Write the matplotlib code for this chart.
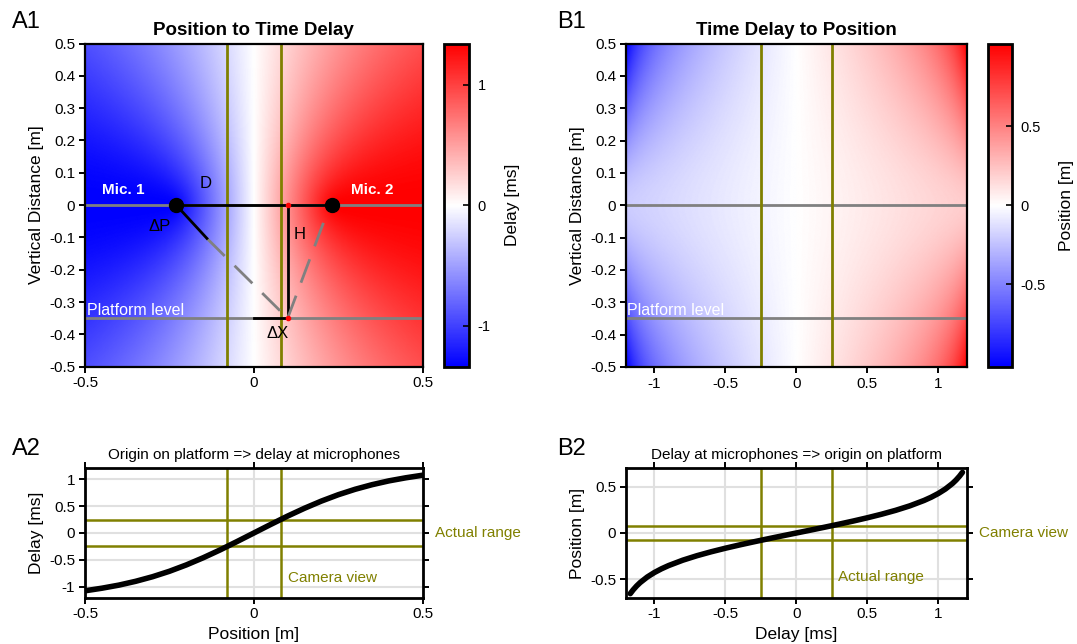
import matplotlib
matplotlib.use("Agg")
import matplotlib.pyplot as plt
import numpy as np
from matplotlib.colors import LinearSegmentedColormap
from matplotlib.ticker import FormatStrFormatter

plt.rcParams['font.family'] = ['Liberation Sans', 'DejaVu Sans']
plt.rcParams['axes.unicode_minus'] = False

# geometry of the setup
mic_x = [-0.23, 0.23]          # microphone positions [m]
sound_speed = 343.0            # [m/s]
platform_y = -0.35             # platform level [m]
camera_view = [-0.08, 0.08]    # [m]
actual_range = [-0.25, 0.25]   # [ms]
vert_ticks = [-0.5, -0.4, -0.3, -0.2, -0.1, 0, 0.1, 0.2, 0.3, 0.4, 0.5]

# example source on the platform used for the sketch in A1
src_x = 0.1
dp_end = [-0.139, -0.103]

# origin on platform -> delay at microphones
pos_a2 = [0.0, 0.05, 0.10, 0.15, 0.20, 0.25, 0.30, 0.35, 0.40, 0.45, 0.50]
delay_a2 = [0.0, 0.159, 0.314, 0.459, 0.592, 0.710, 0.811, 0.896, 0.967, 1.024, 1.072]

# delay at microphones -> origin on platform
delay_b2 = [0.0, 0.1, 0.2, 0.3, 0.4, 0.5, 0.6, 0.7, 0.8, 0.9, 0.95, 1.0, 1.05, 1.1, 1.125, 1.15, 1.17]
pos_b2 = [0.0, 0.0313, 0.0630, 0.0954, 0.1291, 0.1647, 0.2031, 0.2455, 0.2941, 0.3524,
          0.3872, 0.4276, 0.4759, 0.5361, 0.5728, 0.6158, 0.6561]

olive = '#808000'
gray = '#808080'
bwr = LinearSegmentedColormap.from_list('bwr_lin', [(0, 0, 1), (1, 1, 1), (1, 0, 0)])

# delay field over the plane
xs = np.linspace(-0.5, 0.5, 400)
ys = np.linspace(-0.5, 0.5, 400)
X, Y = np.meshgrid(xs, ys)
d1 = np.hypot(X - mic_x[0], Y)
d2 = np.hypot(X - mic_x[1], Y)
delay = (d1 - d2) / sound_speed * 1000

# position field for given delay and vertical distance
ds = np.linspace(-1.2, 1.2, 400)
D, YY = np.meshgrid(ds, ys)
a = np.abs(D) * sound_speed / 1000 / 2
b2 = mic_x[1] ** 2 - a ** 2
position = np.sign(D) * a * np.sqrt(1 + YY ** 2 / b2)

fig = plt.figure(figsize=(10.77, 6.44), dpi=100)
W, H = 1077, 644


def box(l, t, r, b):
    return [l / W, 1 - b / H, (r - l) / W, (b - t) / H]


def style_frame(ax, lw=1.6):
    for s in ax.spines.values():
        s.set_linewidth(lw)
    ax.tick_params(direction='out', length=4, width=1.4, labelsize=11, pad=3)
    ax.xaxis.set_major_formatter(FormatStrFormatter('%g'))
    ax.yaxis.set_major_formatter(FormatStrFormatter('%g'))


# ---- A1 ----
ax1 = fig.add_axes(box(85, 43.5, 422.7, 366.7))
lim = np.abs(delay).max()
im1 = ax1.imshow(delay, extent=[-0.5, 0.5, -0.5, 0.5], origin='lower', aspect='auto',
                 cmap=bwr, vmin=-lim, vmax=lim, interpolation='bilinear')
ax1.axhline(0, color=gray, lw=2)
ax1.axhline(platform_y, color=gray, lw=2)
for cx in camera_view:
    ax1.axvline(cx, color=olive, lw=2)
ax1.plot([mic_x[0], mic_x[1]], [0, 0], color='k', lw=2)
ax1.plot([src_x, src_x], [0, platform_y], color='k', lw=2)
ax1.plot([0, src_x], [platform_y, platform_y], color='k', lw=2)
ax1.plot([dp_end[0], src_x], [dp_end[1], platform_y], color=gray, lw=2, dashes=(9, 5))
ax1.plot([0.206, src_x], [-0.055, platform_y], color=gray, lw=2, dashes=(9, 5))
ax1.plot([mic_x[0], dp_end[0]], [0, dp_end[1]], color='k', lw=2)
ax1.plot(mic_x, [0, 0], 'o', color='k', ms=10)
ax1.plot([src_x, src_x], [0, platform_y], 'o', color='red', ms=3)
ax1.text(-0.387, 0.046, 'Mic. 1', color='white', fontsize=11, fontweight='bold', ha='center', va='center')
ax1.text(0.35, 0.046, 'Mic. 2', color='white', fontsize=11, fontweight='bold', ha='center', va='center')
ax1.text(-0.143, 0.068, 'D', fontsize=12, ha='center', va='center')
ax1.text(0.135, -0.09, 'H', fontsize=12, ha='center', va='center')
ax1.text(-0.278, -0.067, 'ΔP', fontsize=12, ha='center', va='center')
ax1.text(0.07, -0.397, 'ΔX', fontsize=12, ha='center', va='center')
ax1.text(-0.495, -0.325, 'Platform level', color='white', fontsize=11.5, ha='left', va='center')
ax1.set_xlim(-0.5, 0.5)
ax1.set_ylim(-0.5, 0.5)
ax1.set_xticks([-0.5, 0, 0.5])
ax1.set_yticks(vert_ticks)
style_frame(ax1)
ax1.set_ylabel('Vertical Distance [m]', fontsize=12.5)
ax1.set_title('Position to Time Delay', fontsize=13.5, fontweight='bold', pad=6)

cax1 = fig.add_axes(box(444.3, 43.5, 469.3, 367))
cb1 = fig.colorbar(im1, cax=cax1)
cb1.set_ticks([-1, 0, 1])
cb1.ax.yaxis.set_major_formatter(FormatStrFormatter('%g'))
cb1.outline.set_linewidth(2)
cb1.ax.tick_params(direction='in', length=4, width=1.2, labelsize=10.5, pad=6)
cb1.set_label('Delay [ms]', fontsize=12.5, labelpad=10)

# ---- B1 ----
ax2 = fig.add_axes(box(626, 43.5, 966.7, 367))
plim = np.abs(position).max()
im2 = ax2.imshow(position, extent=[-1.2, 1.2, -0.5, 0.5], origin='lower', aspect='auto',
                 cmap=bwr, vmin=-plim, vmax=plim, interpolation='bilinear')
ax2.axhline(0, color=gray, lw=2)
ax2.axhline(platform_y, color=gray, lw=2)
for dx in actual_range:
    ax2.axvline(dx, color=olive, lw=2)
ax2.text(-1.19, -0.325, 'Platform level', color='white', fontsize=11.5, ha='left', va='center')
ax2.set_xlim(-1.2, 1.2)
ax2.set_ylim(-0.5, 0.5)
ax2.set_xticks([-1, -0.5, 0, 0.5, 1])
ax2.set_yticks(vert_ticks)
style_frame(ax2)
ax2.set_ylabel('Vertical Distance [m]', fontsize=12.5)
ax2.set_title('Time Delay to Position', fontsize=13.5, fontweight='bold', pad=6)

cax2 = fig.add_axes(box(987.7, 43.5, 1011.7, 367))
cb2 = fig.colorbar(im2, cax=cax2)
cb2.set_ticks([-0.5, 0, 0.5])
cb2.ax.yaxis.set_major_formatter(FormatStrFormatter('%g'))
cb2.outline.set_linewidth(2)
cb2.ax.tick_params(direction='in', length=4, width=1.2, labelsize=10.5, pad=6)
cb2.set_label('Position [m]', fontsize=12.5, labelpad=10)

# ---- A2 ----
ax3 = fig.add_axes(box(85, 468.3, 422.7, 597.7))
ax3.grid(True, color='#e0e0e0', lw=1.5)
ax3.set_axisbelow(True)
for cx in camera_view:
    ax3.axvline(cx, color=olive, lw=1.8)
for dy in actual_range:
    ax3.axhline(dy, color=olive, lw=1.8)
x_full = [-p for p in pos_a2[::-1]] + pos_a2[1:]
y_full = [-v for v in delay_a2[::-1]] + delay_a2[1:]
ax3.plot(x_full, y_full, color='k', lw=4, solid_capstyle='round', solid_joinstyle='round')
ax3.text(0.1, -0.83, 'Camera view', color=olive, fontsize=11, ha='left', va='center')
ax3.text(1.035, 0.0, 'Actual range', color=olive, fontsize=11, ha='left', va='center',
         transform=ax3.get_yaxis_transform())
ax3.set_xlim(-0.5, 0.5)
ax3.set_ylim(-1.2, 1.2)
ax3.set_xticks([-0.5, 0, 0.5])
ax3.set_yticks([-1, -0.5, 0, 0.5, 1])
style_frame(ax3, lw=2)
ax3.tick_params(top=True, right=True)
ax3.set_xlabel('Position [m]', fontsize=12.5, labelpad=4)
ax3.set_ylabel('Delay [ms]', fontsize=12.5)
ax3.set_title('Origin on platform => delay at microphones', fontsize=11, pad=7)

# ---- B2 ----
ax4 = fig.add_axes(box(626, 468.3, 966.7, 597.7))
ax4.grid(True, color='#e0e0e0', lw=1.5)
ax4.set_axisbelow(True)
for dx in actual_range:
    ax4.axvline(dx, color=olive, lw=1.8)
for cy in camera_view:
    ax4.axhline(cy, color=olive, lw=1.8)
d_full = [-v for v in delay_b2[::-1]] + delay_b2[1:]
p_full = [-p for p in pos_b2[::-1]] + pos_b2[1:]
ax4.plot(d_full, p_full, color='k', lw=4, solid_capstyle='round', solid_joinstyle='round')
ax4.text(0.29, -0.48, 'Actual range', color=olive, fontsize=11, ha='left', va='center')
ax4.text(1.035, 0.0, 'Camera view', color=olive, fontsize=11, ha='left', va='center',
         transform=ax4.get_yaxis_transform())
ax4.set_xlim(-1.2, 1.2)
ax4.set_ylim(-0.7, 0.7)
ax4.set_xticks([-1, -0.5, 0, 0.5, 1])
ax4.set_yticks([-0.5, 0, 0.5])
style_frame(ax4, lw=2)
ax4.tick_params(top=True, right=True)
ax4.set_xlabel('Delay [ms]', fontsize=12.5, labelpad=4)
ax4.set_ylabel('Position [m]', fontsize=12.5)
ax4.set_title('Delay at microphones => origin on platform', fontsize=11, pad=7)

# panel letters
for lbl, px, py in [('A1', 12, 22), ('B1', 557, 22), ('A2', 12, 449), ('B2', 557, 449)]:
    fig.text(px / W, 1 - py / H, lbl, fontsize=17, ha='left', va='center')

fig.savefig('out.png', dpi=100)
